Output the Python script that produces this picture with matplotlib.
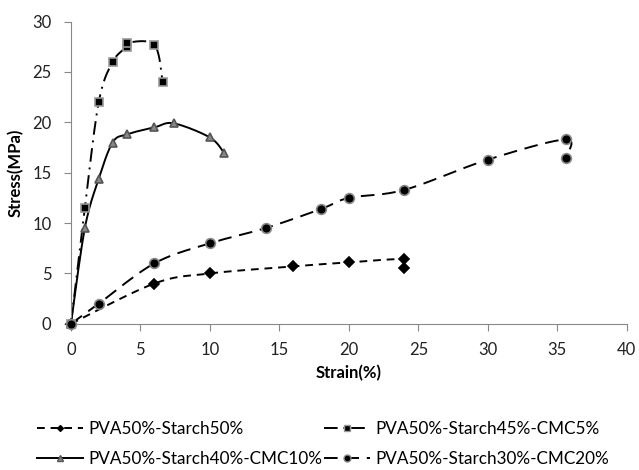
import numpy as np
import matplotlib.pyplot as plt

plt.rcParams['font.family'] = ['Lato', 'DejaVu Sans']

# Strain (%) / Stress (MPa)
s50_x = [0, 6, 10, 16, 20, 24, 24]
s50_y = [0, 4.0, 5.0, 5.7, 6.1, 6.4, 5.5]

c5_x = [0, 1, 2, 3, 4, 4, 6, 6.6]
c5_y = [0, 11.5, 22, 26, 27.5, 27.9, 27.7, 24]

c10_x = [0, 1, 2, 3, 4, 6, 7.4, 10, 11]
c10_y = [0, 9.5, 14.4, 18, 18.8, 19.5, 19.9, 18.5, 17]

c20_x = [0, 2, 6, 10, 14, 18, 20, 24, 30, 35.6, 35.6]
c20_y = [0, 2.0, 6.0, 8.0, 9.5, 11.4, 12.5, 13.3, 16.3, 18.3, 16.5]

labels = ["PVA50%-Starch50%", "PVA50%-Starch45%-CMC5%",
          "PVA50%-Starch40%-CMC10%", "PVA50%-Starch30%-CMC20%"]


def smooth(x, y, n=20):
    # Catmull-Rom style curve through the points, like a spreadsheet "smoothed line"
    x = np.asarray(x, float)
    y = np.asarray(y, float)
    px = np.concatenate([[x[0]], x, [x[-1]]])
    py = np.concatenate([[y[0]], y, [y[-1]]])
    ox, oy = [], []
    t = np.linspace(0, 1, n)
    for i in range(1, len(px) - 2):
        p0, p1, p2, p3 = [np.array([px[j], py[j]]) for j in (i - 1, i, i + 1, i + 2)]
        m1 = (p2 - p0) / 6
        m2 = (p3 - p1) / 6
        for tt in t:
            b = ((1 - tt) ** 3 * p1 + 3 * (1 - tt) ** 2 * tt * (p1 + m1)
                 + 3 * (1 - tt) * tt ** 2 * (p2 - m2) + tt ** 3 * p2)
            ox.append(b[0])
            oy.append(b[1])
    return ox, oy


fig = plt.figure(figsize=(6.39, 4.70), dpi=100)
ax = fig.add_axes([0.111, 0.311, 0.870, 0.643])

series = [
    (s50_x, s50_y, (0, (4, 3)), 'D', 'black', 'black', 5),
    (c5_x, c5_y, (0, (7, 3, 1, 3)), 's', 'black', '#999999', 6),
    (c10_x, c10_y, '-', '^', '#888888', '#555555', 6),
    (c20_x, c20_y, (0, (7, 4)), 'o', 'black', '#888888', 7),
]

handles = []
for (x, y, ls, mk, fc, ec, ms), lab in zip(series, labels):
    sx, sy = smooth(x, y)
    ax.plot(sx, sy, color='black', linestyle=ls, lw=1.4)
    ax.plot(x, y, linestyle='none', marker=mk, markersize=ms, clip_on=False,
            markerfacecolor=fc, markeredgecolor=ec, markeredgewidth=1.2, zorder=3)
    h, = ax.plot([], [], color='black', linestyle=ls, lw=1.4, marker=mk,
                 markersize=ms - 2, markerfacecolor=fc, markeredgecolor=ec)
    handles.append((h, lab))

ax.set_xlim(0, 40)
ax.set_ylim(0, 30)
ax.set_xticks(range(0, 41, 5))
ax.set_yticks(range(0, 31, 5))
for sp in ['top', 'right']:
    ax.spines[sp].set_visible(False)
for sp in ['left', 'bottom']:
    ax.spines[sp].set_color('#888888')
ax.tick_params(colors='#888888', labelcolor='#222222', labelsize=12, length=5)
ax.tick_params(axis='x', pad=8)
ax.tick_params(axis='y', pad=9)
ax.set_xlabel("Strain(%)", fontsize=12, fontweight='bold', labelpad=5)
ax.set_ylabel("Stress(MPa)", fontsize=12, fontweight='bold', labelpad=6)

# legend fills column by column, so order for rows: 50 | CMC5, CMC10 | CMC20
order = [0, 2, 1, 3]
ax.legend([handles[i][0] for i in order], [handles[i][1] for i in order], ncol=2,
          loc='upper left', bbox_to_anchor=(-0.061, -0.322), frameon=False,
          borderaxespad=0, borderpad=0,
          fontsize=12.3, handlelength=2.7, handletextpad=0.3,
          columnspacing=0.1, labelspacing=0.8)

fig.savefig("out.png", dpi=100)
